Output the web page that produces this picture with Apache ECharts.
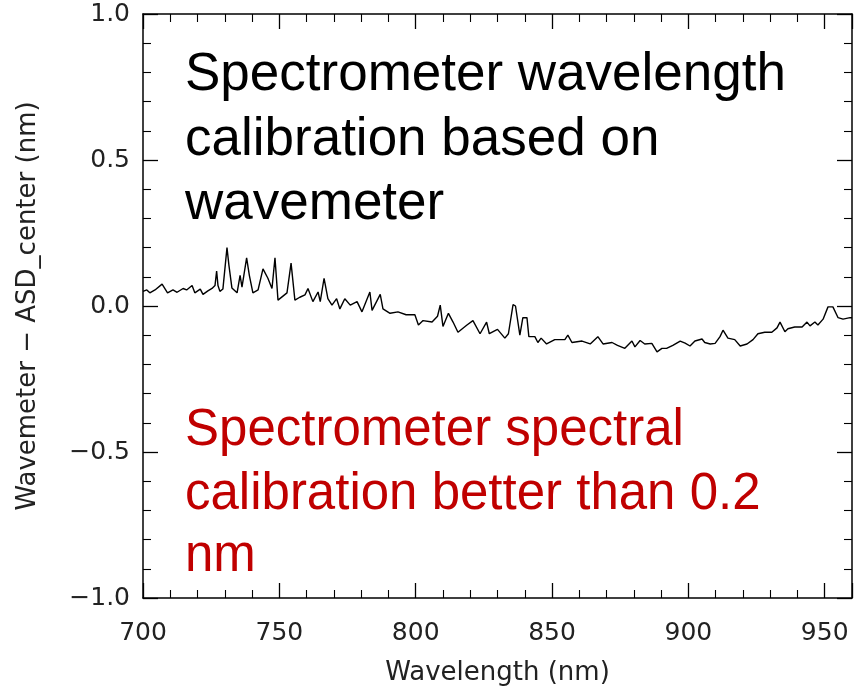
<!DOCTYPE html>
<html>
<head>
<meta charset="utf-8">
<script src="https://cdn.jsdelivr.net/npm/echarts@6/dist/echarts.min.js"></script>
<style>
html, body { margin: 0; padding: 0; background: #fff; }
#chart { width: 855px; height: 693px; }
</style>
</head>
<body>
<div id="chart"></div>
<script>
// wavelength (nm)
const wavelength = [
  700.0, 701.4, 702.5, 704.4, 707.0, 709.0, 711.0, 712.5, 714.7, 716.0,
  718.0, 719.0, 721.0, 722.0, 723.8, 725.3, 726.4, 727.0, 727.5, 728.2,
  729.3, 730.8, 731.5, 732.6, 734.5, 735.6, 736.3, 738.0, 739.0, 740.3,
  742.2, 744.0, 745.8, 747.3, 748.4, 749.5, 752.8, 754.3, 755.7, 757.5,
  759.4, 760.5, 762.3, 764.2, 765.0, 766.4, 767.8, 769.3, 771.0, 772.2,
  774.0, 776.0, 778.5, 780.3, 783.2, 784.0, 787.0, 788.0, 790.6, 793.5,
  796.5, 799.7, 801.0, 802.7, 806.0, 808.0, 809.0, 810.0, 812.0, 813.7,
  815.5, 818.8, 821.0, 823.6, 826.0, 827.0, 830.0, 832.7, 834.0, 835.7,
  836.6, 838.2, 839.3, 840.8, 841.5, 843.7, 844.8, 846.0, 848.0, 851.0,
  854.7, 855.8, 857.3, 861.0, 864.0, 866.8, 868.7, 872.0, 874.0, 876.7,
  879.3, 880.4, 882.3, 884.0, 886.6, 888.5, 890.3, 892.0, 894.3, 897.0,
  898.8, 900.6, 902.4, 905.0, 906.0, 908.0, 909.8, 911.6, 912.7, 914.5,
  917.0, 919.0, 921.5, 923.7, 925.5, 928.0, 930.6, 932.5, 933.6, 935.4,
  936.5, 939.0, 941.7, 943.5, 944.6, 946.4, 947.5, 949.4, 951.2, 953.0,
  954.9, 956.7, 959.3, 960.0
]
// Wavemeter - ASD_center (nm)
const offset = [
  0.050, 0.055, 0.045, 0.055, 0.075, 0.045, 0.055, 0.047, 0.060, 0.055,
  0.070, 0.045, 0.058, 0.040, 0.052, 0.060, 0.070, 0.120, 0.070, 0.050,
  0.058, 0.200, 0.140, 0.062, 0.045, 0.105, 0.065, 0.165, 0.105, 0.045,
  0.055, 0.127, 0.095, 0.060, 0.165, 0.020, 0.045, 0.147, 0.020, 0.030,
  0.038, 0.060, 0.015, 0.048, 0.015, 0.095, 0.025, 0.003, 0.025, -0.010,
  0.025, 0.003, 0.015, -0.020, 0.048, -0.015, 0.040, -0.010, -0.025, -0.020,
  -0.030, -0.030, -0.065, -0.050, -0.055, -0.035, 0.003, -0.070, -0.025, -0.055,
  -0.090, -0.065, -0.050, -0.095, -0.055, -0.095, -0.080, -0.110, -0.095, 0.005,
  0.000, -0.100, -0.040, -0.040, -0.105, -0.105, -0.125, -0.110, -0.130, -0.115,
  -0.115, -0.100, -0.125, -0.120, -0.130, -0.105, -0.130, -0.125, -0.135, -0.145,
  -0.120, -0.140, -0.118, -0.130, -0.128, -0.157, -0.145, -0.145, -0.135, -0.120,
  -0.127, -0.137, -0.120, -0.113, -0.125, -0.130, -0.128, -0.105, -0.083, -0.110,
  -0.115, -0.137, -0.130, -0.115, -0.095, -0.090, -0.090, -0.075, -0.055, -0.088,
  -0.078, -0.072, -0.072, -0.055, -0.068, -0.055, -0.065, -0.045, -0.003, -0.003,
  -0.040, -0.045, -0.040, -0.040
]
const xTicks = [700, 750, 800, 850, 900, 950]
const yTicks = [-1.0, -0.5, 0.0, 0.5, 1.0]
const noteBlack = ['Spectrometer wavelength', 'calibration based on', 'wavemeter']
const noteRed = ['Spectrometer spectral', 'calibration better than 0.2', 'nm']

let myChart = echarts.init(document.getElementById('chart'))
let axisFont = 'DejaVu Sans'
let fmtY = function (v) {
    let s = Math.abs(v).toFixed(1)
    return v < 0 ? '\u2212' + s : s
}
let baseX = {
    type: 'value',
    min: 700,
    max: 960,
    interval: 50,
    axisLine: { show: true, onZero: false, lineStyle: { color: '#000', width: 1.5 } },
    axisTick: { show: true, inside: true, length: 15, lineStyle: { color: '#000', width: 1.3 } },
    minorTick: { show: true, splitNumber: 5, length: 8, lineStyle: { color: '#000', width: 1.1 } },
    splitLine: { show: false }
}
let baseY = {
    type: 'value',
    min: -1,
    max: 1,
    interval: 0.5,
    axisLine: { show: true, onZero: false, lineStyle: { color: '#000', width: 1.5 } },
    axisTick: { show: true, inside: true, length: 15, lineStyle: { color: '#000', width: 1.3 } },
    minorTick: { show: true, splitNumber: 5, length: 8, lineStyle: { color: '#000', width: 1.1 } },
    splitLine: { show: false }
}

let graphics = []
let blackY = [80, 145, 209]
let redY = [435, 499, 561]
noteBlack.forEach((t, i) => {
    graphics.push({
        type: 'text', left: 185, top: blackY[i] - 31,
        style: { text: t, fill: '#000', font: '53px "Liberation Sans"' }
    })
})
noteRed.forEach((t, i) => {
    graphics.push({
        type: 'text', left: 185, top: redY[i] - 30,
        style: { text: t, fill: '#c00000', font: '51px "Liberation Sans"' }
    })
})

let option = {
    animation: false,
    grid: { left: 143, right: 3, top: 14, bottom: 95 },
    xAxis: [
        Object.assign({}, baseX, {
            position: 'bottom',
            name: 'Wavelength (nm)',
            nameLocation: 'middle',
            nameGap: 62,
            nameTextStyle: { fontFamily: axisFont, fontSize: 26, color: '#222' },
            axisLabel: {
                margin: 23,
                fontFamily: axisFont, fontSize: 25, color: '#222',
                formatter: function (v) { return xTicks.indexOf(v) >= 0 ? String(v) : '' }
            }
        }),
        Object.assign({}, baseX, { position: 'top', axisLabel: { show: false } })
    ],
    yAxis: [
        Object.assign({}, baseY, {
            position: 'left',
            name: 'Wavemeter \u2212 ASD_center (nm)',
            nameLocation: 'middle',
            nameRotate: 90,
            nameGap: 102,
            nameTextStyle: { fontFamily: axisFont, fontSize: 26, color: '#222' },
            axisLabel: {
                margin: 13,
                fontFamily: axisFont, fontSize: 25, color: '#222',
                formatter: function (v) { return yTicks.indexOf(v) >= 0 ? fmtY(v) : '' }
            }
        }),
        Object.assign({}, baseY, { position: 'right', axisLabel: { show: false } })
    ],
    series: [
        {
            type: 'line',
            data: wavelength.map((w, i) => [w, offset[i]]),
            showSymbol: false,
            symbol: 'none',
            lineStyle: { color: '#000', width: 1.4 },
            clip: true
        }
    ],
    graphic: graphics
}
myChart.setOption(option)
</script>
</body>
</html>
